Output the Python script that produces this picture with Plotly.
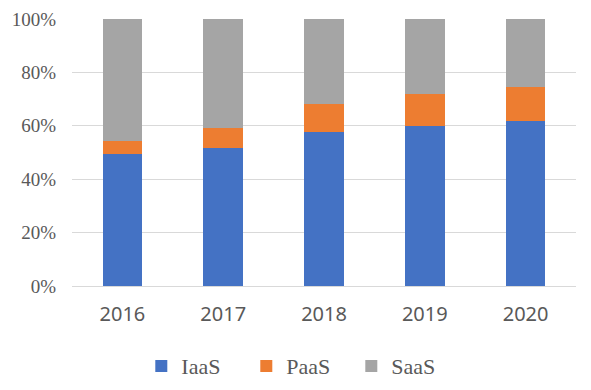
import plotly.graph_objects as go

years = ["2016", "2017", "2018", "2019", "2020"]
iaas = [49.3, 51.6, 57.6, 59.9, 61.8]
paas = [5.0, 7.6, 10.4, 12.0, 12.7]
saas = [45.7, 40.8, 32.0, 28.1, 25.5]

series = [("IaaS", iaas, "#4472C4"), ("PaaS", paas, "#ED7D31"), ("SaaS", saas, "#A5A5A5")]

SERIF = "'Liberation Serif', 'DejaVu Serif', serif"

fig = go.Figure()
for name, vals, col in series:
    fig.add_trace(go.Bar(x=years, y=[v / 100 for v in vals], name=name,
                         marker=dict(color=col, line=dict(width=0))))

fig.update_layout(
    barmode="stack",
    bargap=0.607,
    width=583, height=382,
    margin=dict(l=64, r=15, t=11, b=104, autoexpand=False),
    plot_bgcolor="white", paper_bgcolor="white",
    showlegend=True,
    legend=dict(orientation="h", traceorder="normal",
                x=0.45, xanchor="center", y=-0.3, yanchor="middle",
                font=dict(family=SERIF, size=22, color="#595959"),
                itemwidth=30, entrywidth=60),
    font=dict(family=SERIF, color="#595959"),
)
fig.update_yaxes(range=[0, 1], tickformat=".0%", dtick=0.2, gridcolor="#D9D9D9",
                 gridwidth=1, zeroline=True, zerolinecolor="#D9D9D9", zerolinewidth=1,
                 tickfont=dict(family=SERIF, size=19, color="#595959"),
                 ticks="", showline=False, ticklabelstandoff=15)
fig.update_xaxes(tickfont=dict(family="Noto Sans", size=20, color="#595959"),
                 showline=False, ticks="", ticklabelstandoff=14)

fig.write_html("out.html")
